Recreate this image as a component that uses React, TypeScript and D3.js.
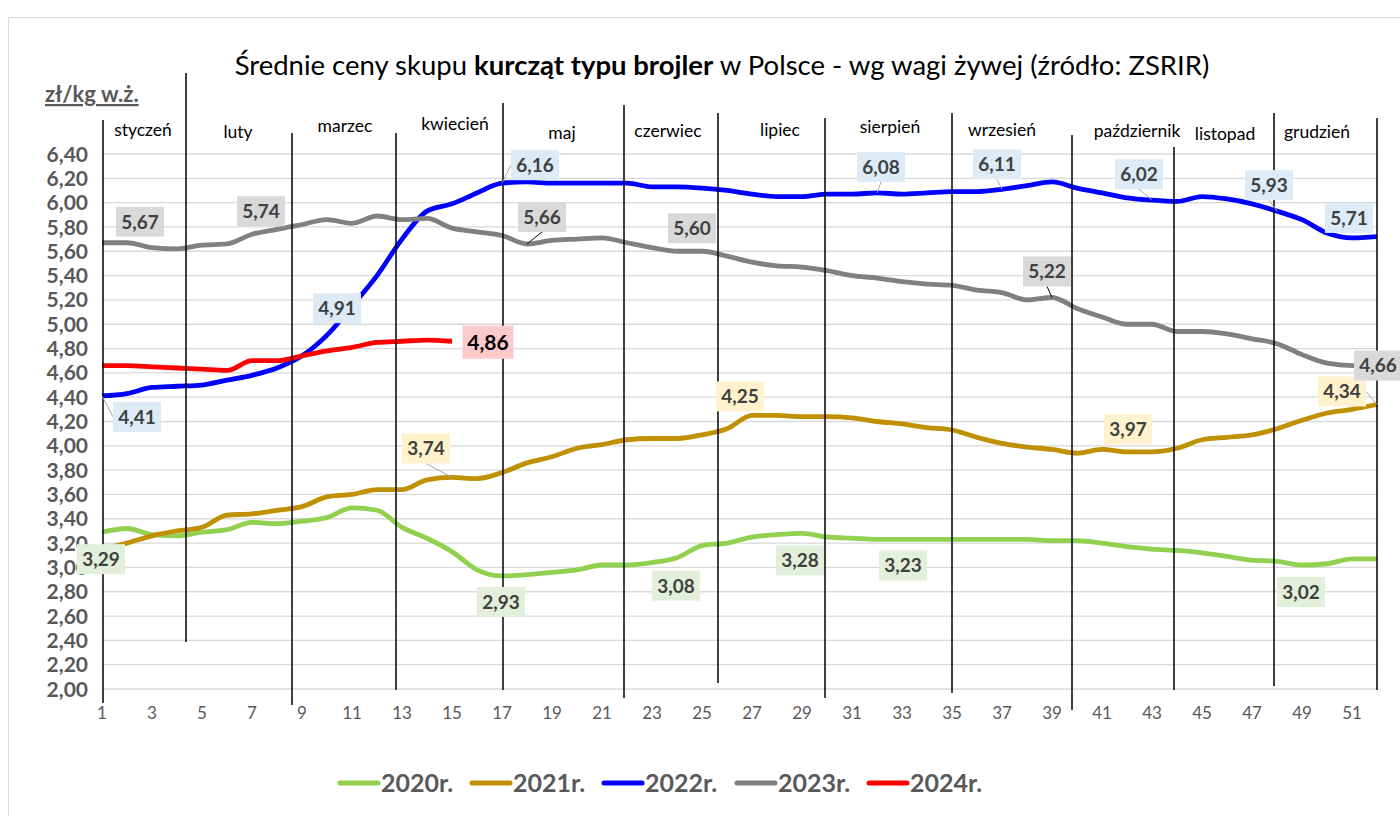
import React from "react";
import * as d3 from "d3";

const W = 1400;
const H = 816;

// tygodnie 1..52
const weeks = d3.range(1, 53);

const y2020 = [
  3.29, 3.32, 3.27, 3.26, 3.29, 3.31, 3.37, 3.36, 3.38, 3.41, 3.49, 3.47, 3.33,
  3.24, 3.13, 2.98, 2.93, 2.94, 2.96, 2.98, 3.02, 3.02, 3.04, 3.08, 3.18, 3.2,
  3.25, 3.27, 3.28, 3.25, 3.24, 3.23, 3.23, 3.23, 3.23, 3.23, 3.23, 3.23, 3.22,
  3.22, 3.2, 3.17, 3.15, 3.14, 3.12, 3.09, 3.06, 3.05, 3.02, 3.03, 3.07, 3.07,
];
const y2021 = [
  3.15, 3.2, 3.26, 3.3, 3.33, 3.43, 3.44, 3.47, 3.5, 3.58, 3.6, 3.64, 3.64, 3.72,
  3.74, 3.73, 3.78, 3.86, 3.91, 3.98, 4.01, 4.05, 4.06, 4.06, 4.09, 4.14, 4.25,
  4.25, 4.24, 4.24, 4.23, 4.2, 4.18, 4.15, 4.13, 4.07, 4.02, 3.99, 3.97, 3.94,
  3.97, 3.95, 3.95, 3.98, 4.05, 4.07, 4.09, 4.14, 4.21, 4.27, 4.3, 4.34,
];
const y2022 = [
  4.41, 4.43, 4.48, 4.49, 4.5, 4.54, 4.58, 4.64, 4.74, 4.91, 5.15, 5.4, 5.7, 5.93,
  5.99, 6.08, 6.16, 6.17, 6.16, 6.16, 6.16, 6.16, 6.13, 6.13, 6.12, 6.1, 6.07,
  6.05, 6.05, 6.07, 6.07, 6.08, 6.07, 6.08, 6.09, 6.09, 6.11, 6.14, 6.17, 6.12,
  6.08, 6.04, 6.02, 6.01, 6.05, 6.03, 5.99, 5.93, 5.86, 5.75, 5.71, 5.72,
];
const y2023 = [
  5.67, 5.67, 5.63, 5.62, 5.65, 5.66, 5.74, 5.78, 5.82, 5.86, 5.83, 5.89, 5.86,
  5.87, 5.79, 5.76, 5.73, 5.66, 5.69, 5.7, 5.71, 5.67, 5.63, 5.6, 5.6, 5.56, 5.51,
  5.48, 5.47, 5.44, 5.4, 5.38, 5.35, 5.33, 5.32, 5.28, 5.26, 5.2, 5.22, 5.13,
  5.06, 5.0, 5.0, 4.94, 4.94, 4.92, 4.88, 4.84, 4.75, 4.68, 4.66, 4.66,
];
const y2024 = [
  4.66, 4.66, 4.65, 4.64, 4.63, 4.62, 4.7, 4.7, 4.74, 4.78, 4.81, 4.85, 4.86,
  4.87, 4.86,
];

const seriesNames = ["2020r.", "2021r.", "2022r.", "2023r.", "2024r."];
const seriesColors = ["#92D050", "#BF9000", "#0000FF", "#808080", "#FF0000"];
const labelFills = ["#E2EFDA", "#FFF2CC", "#DDEBF7", "#D9D9D9", "#FCCACA"];

// tygodnie z etykietami danych
const labelWeeks2020 = [1, 17, 24, 29, 33, 49];
const labelWeeks2021 = [15, 27, 41, 52];
const labelWeeks2022 = [1, 10, 17, 32, 37, 43, 48, 51];
const labelWeeks2023 = [2, 7, 18, 24, 39, 52];
const labelWeeks2024 = [15];

const months = [
  "styczeń", "luty", "marzec", "kwiecień", "maj", "czerwiec",
  "lipiec", "sierpień", "wrzesień", "październik", "listopad", "grudzień",
];
// pozycja podpisu miesiąca (w tygodniach)
const monthWeeks = [2.64, 6.44, 10.72, 15.12, 19.4, 23.64, 28.12, 32.52, 37.0, 42.4, 45.92, 49.6];
// pionowe linie podziału miesięcy (w tygodniach)
const separatorWeeks = [1.04, 4.36, 8.6, 12.76, 17.04, 21.88, 25.64, 29.92, 35.0, 39.8, 43.88, 47.88, 52.0];

const yTicks = d3.range(2.0, 6.41, 0.2);
const xTicks = d3.range(1, 53, 2);

const FONT = "Lato, 'Open Sans', sans-serif";

export default function App() {
  const x = d3.scaleLinear().domain([1, 52]).range([102, 1377]);
  const y = d3.scaleLinear().domain([2.0, 6.4]).range([689, 154]);

  const line = d3
    .line<number>()
    .x((_, i) => x(weeks[i]))
    .y((d) => y(d))
    .curve(d3.curveMonotoneX);

  const series = [y2020, y2021, y2022, y2023, y2024];
  const fmt = (v: number) => v.toFixed(2).replace(".", ",");

  // separator line extents (shapes drawn on the chart)
  const sepTop = [120, 73, 133, 133, 103, 105, 113, 118, 113, 135, 147, 113, 118];
  const sepBot = [703, 642, 705, 690, 690, 698, 683, 698, 693, 710, 690, 686, 690];
  const monthY = [130, 132, 126, 124, 133, 131, 130, 127, 130, 131, 134, 132];

  // label offsets [dx, dy, leader]
  const labelOffsets: [number, number, boolean][][] = [
    [[-1, 27, false], [-1, 26, false], [-1, 28, false], [-2, 27, false], [1, 26, false], [-1, 27, false]],
    [[-26, -29, true], [-12, -19, false], [26, -20, false], [-35, -13, true]],
    [[35, 21, true], [10, -27, false], [33, -18, true], [4, -26, true], [-5, -25, true], [-13, -26, true], [-8, -26, true], [-3, -20, false]],
    [[13, -21, false], [9, -23, false], [15, -27, true], [15, -23, false], [-5, -26, true], [1, 0, false]],
    [[36, 1, false]],
  ];
  const labelWeeks = [labelWeeks2020, labelWeeks2021, labelWeeks2022, labelWeeks2023, labelWeeks2024];

  const legendX = [340, 472, 604, 737, 869];

  return (
    <svg
      width={W}
      height={H}
      style={{ position: "absolute", left: 0, top: 0, display: "block", background: "#fff" }}
      fontFamily={FONT}
    >
      <rect x={8.5} y={17.5} width={W} height={H} fill="#fff" stroke="#D9D9D9" />

      {/* title */}
      <text x={722} y={75} textAnchor="middle" fontSize={27.5} fill="#000">
        Średnie ceny skupu <tspan fontWeight="bold">kurcząt typu brojler</tspan> w Polsce - wg wagi żywej (źródło: ZSRIR)
      </text>

      {/* unit */}
      <text x={45} y={102} fontSize={22} fontWeight="bold" fill="#595959" textDecoration="underline">
        zł/kg w.ż.
      </text>

      {/* gridlines */}
      {yTicks.map((t) => (
        <line key={t} x1={102} x2={1377} y1={y(t)} y2={y(t)} stroke="#D9D9D9" strokeWidth={1.3} />
      ))}

      {/* y tick labels */}
      {yTicks.map((t) => (
        <text key={"yl" + t} x={88} y={y(t)} dy="0.36em" textAnchor="end" fontSize={21} fontWeight="bold" fill="#595959">
          {fmt(t)}
        </text>
      ))}

      {/* x tick labels */}
      {xTicks.map((t) => (
        <text key={"xl" + t} x={x(t)} y={719} textAnchor="middle" fontSize={17} fill="#595959">
          {t}
        </text>
      ))}

      {/* series */}
      {series.map((s, i) => (
        <path key={i} d={line(s) || ""} fill="none" stroke={seriesColors[i]} strokeWidth={4.8} strokeLinejoin="round" />
      ))}

      {/* month separators */}
      {separatorWeeks.map((w, i) => (
        <line key={"sep" + i} x1={x(w)} x2={x(w)} y1={sepTop[i]} y2={sepBot[i]} stroke="#000" strokeWidth={1.5} />
      ))}

      {/* month labels */}
      {months.map((m, i) => (
        <text key={m} x={x(monthWeeks[i])} y={monthY[i]} dy="0.35em" textAnchor="middle" fontSize={17.5} fill="#000">
          {m}
        </text>
      ))}

      {/* data labels */}
      {labelWeeks.map((lw, si) =>
        lw.map((w, j) => {
          const v = series[si][w - 1];
          const px = x(w);
          const py = y(v);
          const [dx, dy, leader] = labelOffsets[si][j];
          const cx = px + dx;
          const cy = py + dy;
          const big = si === 4;
          const bw = big ? 51 : 48;
          const bh = big ? 33 : 30;
          const ey = dy < 0 ? cy + bh / 2 : cy - bh / 2;
          return (
            <g key={si + "-" + w}>
              {leader && (
                <line
                  x1={Math.abs(dx) > 30 ? (dx > 0 ? cx - bw / 2 : cx + bw / 2) : cx}
                  y1={Math.abs(dx) > 30 ? cy : ey}
                  x2={px}
                  y2={py}
                  stroke={si === 3 ? "#000" : "#A6A6A6"}
                  strokeWidth={1}
                />
              )}
              <rect x={cx - bw / 2} y={cy - bh / 2} width={bw} height={bh} fill={labelFills[si]} />
              <text
                x={cx}
                y={cy}
                dy="0.36em"
                textAnchor="middle"
                fontSize={big ? 21 : 19}
                fontWeight="bold"
                fill={big ? "#000" : "#404040"}
              >
                {fmt(v)}
              </text>
            </g>
          );
        })
      )}

      {/* legend */}
      {seriesNames.map((n, i) => (
        <g key={n}>
          <line x1={legendX[i]} x2={legendX[i] + 38} y1={783} y2={783} stroke={seriesColors[i]} strokeWidth={5} strokeLinecap="round" />
          <text x={legendX[i] + 41} y={783} dy="0.36em" fontSize={25} fontWeight="bold" fill="#595959">
            {n}
          </text>
        </g>
      ))}
    </svg>
  );
}
